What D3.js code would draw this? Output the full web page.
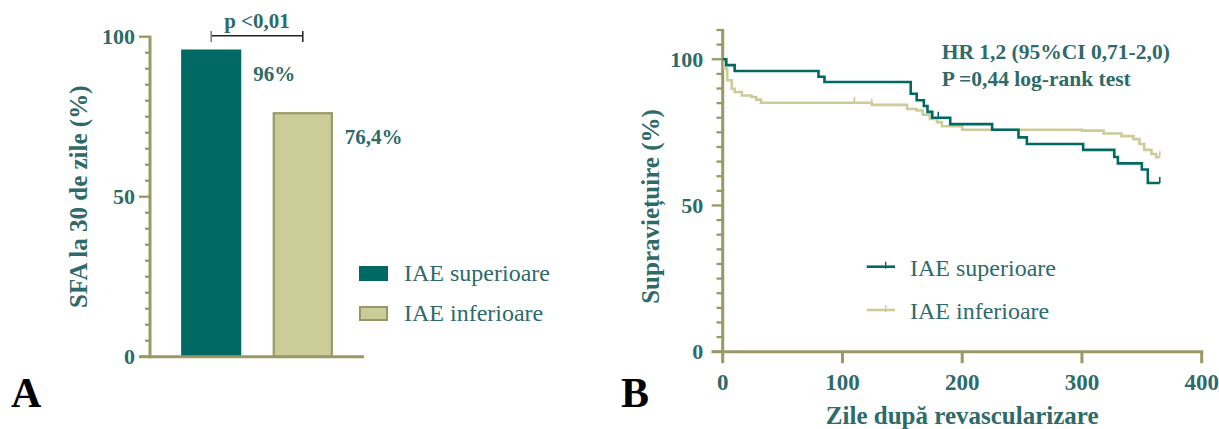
<!DOCTYPE html>
<html>
<head>
<meta charset="utf-8">
<script src="https://cdn.jsdelivr.net/npm/d3@7"></script>
<style>
  html, body { margin: 0; padding: 0; background: #ffffff; }
  svg { display: block; }
  text { font-family: "Liberation Serif", "Times New Roman", "DejaVu Serif", serif; }
</style>
</head>
<body>
<svg id="chart" width="1219" height="429"></svg>
<script>
// ---------------- DATA ----------------
const barCategories = ["IAE superioare", "IAE inferioare"];
const barValues = [96, 76.4];
const barLabels = ["96%", "76,4%"];
const barYTicks = [0, 50, 100];
const barYTitle = "SFA la 30 de zile (%)";
const pText = "p <0,01";

const kmXTicks = [0, 100, 200, 300, 400];
const kmYTicks = [0, 50, 100];
const kmXTitle = "Zile după revascularizare";
const kmYTitle = "Supraviețuire (%)";
const kmAnnot = ["HR 1,2 (95%CI 0,71-2,0)", "P =0,44 log-rank test"];
const kmSeries = ["IAE superioare", "IAE inferioare"];

const supDays = [0, 3, 10, 80, 85, 157, 162, 168, 171, 175, 190, 225, 247, 254, 301, 327, 330, 350, 355, 365];
const supSurv = [100, 98, 96, 94, 92.2, 88.2, 86, 84, 82, 80, 77.8, 75.9, 73.3, 71, 69, 66.6, 64.4, 62.3, 57.7, 57.7];
const supCensor = [180, 365];

const infDays = [0, 1.5, 3.8, 7.5, 10, 16, 24, 28, 32, 124.5, 154, 162, 167, 173, 179, 183, 200, 300, 318, 333, 343, 348, 352, 358, 362, 365];
const infSurv = [100, 96.8, 92.8, 89.9, 88.8, 87.6, 87.1, 86.2, 85.1, 84.4, 83, 82.5, 81, 79.6, 78.5, 77.1, 75.9, 75.6, 74.6, 73.7, 72.7, 71, 69, 67.6, 66.5, 66.5];
const infCensor = [110, 124.5, 365];

// ---------------- STYLE ----------------
const TEAL = "#006964";
const BEIGE = "#cccc99";
const OLIVE = "#9a9863";
const TXT = "#2e6a69";

const svg = d3.select("#chart");

// ---------------- PANEL A ----------------
const ay = d3.scaleLinear().domain([0, 100]).range([356.7, 36.7]);
const ax = d3.scaleBand().domain(barCategories).range([150, 364]).paddingInner(0.344).paddingOuter(0.34);

// bars
const barColors = [TEAL, BEIGE];
svg.append("g").selectAll("rect").data(barCategories).join("rect")
  .attr("x", (d, i) => ax(d) + (i === 1 ? 1 : 0))
  .attr("width", (d, i) => ax.bandwidth() - (i === 1 ? 2 : 0))
  .attr("y", (d, i) => ay(barValues[i]) + (i === 1 ? 1 : 0))
  .attr("height", (d, i) => ay(0) - ay(barValues[i]) - (i === 1 ? 1 : 0))
  .attr("fill", (d, i) => barColors[i])
  .attr("stroke", (d, i) => i === 1 ? "#999966" : "none")
  .attr("stroke-width", 2.2);

// bar value labels
svg.append("g").selectAll("text").data(barCategories).join("text")
  .attr("x", d => ax(d) + ax.bandwidth() + 12)
  .attr("y", (d, i) => ay(barValues[i]) + 31.5)
  .attr("fill", TXT).attr("font-weight", "bold").attr("font-size", 21)
  .text((d, i) => barLabels[i]);

// y axis A
const aMinor = d3.range(0, 101, 5);
const gA = svg.append("g");
gA.selectAll("line.tk").data(aMinor).join("line")
  .attr("x1", d => barYTicks.includes(d) ? 139 : 145).attr("x2", 150)
  .attr("y1", d => ay(d)).attr("y2", d => ay(d))
  .attr("stroke", OLIVE).attr("stroke-width", 2.3);
gA.append("line").attr("x1", 150).attr("x2", 150).attr("y1", ay(100) - 1).attr("y2", ay(0) + 1.5)
  .attr("stroke", OLIVE).attr("stroke-width", 3);
gA.append("line").attr("x1", 139).attr("x2", 364).attr("y1", ay(0)).attr("y2", ay(0))
  .attr("stroke", OLIVE).attr("stroke-width", 3);
gA.selectAll("text").data(barYTicks).join("text")
  .attr("x", 135).attr("y", d => ay(d)).attr("dy", "0.34em")
  .attr("text-anchor", "end").attr("fill", TXT).attr("font-weight", "bold").attr("font-size", 22)
  .text(d => d);

// y title A
svg.append("text").attr("transform", `translate(87,${(ay(0) + ay(100)) / 2}) rotate(-90)`)
  .attr("text-anchor", "middle").attr("fill", TXT).attr("font-weight", "bold").attr("font-size", 25)
  .text(barYTitle);

// significance bracket
const bx1 = ax(barCategories[0]) + ax.bandwidth() / 2;
const bx2 = ax(barCategories[1]) + ax.bandwidth() / 2;
const gP = svg.append("g").attr("stroke", "#222").attr("stroke-width", 1.5);
gP.append("line").attr("x1", bx1).attr("x2", bx2).attr("y1", 35.7).attr("y2", 35.7);
gP.append("line").attr("x1", bx1).attr("x2", bx1).attr("y1", 31).attr("y2", 42).attr("stroke", "#777");
gP.append("line").attr("x1", bx2).attr("x2", bx2).attr("y1", 31).attr("y2", 42);
svg.append("text").attr("x", (bx1 + bx2) / 2).attr("y", 28).attr("text-anchor", "middle")
  .attr("fill", TXT).attr("font-weight", "bold").attr("font-size", 21).text(pText);

// legend A
const legA = svg.append("g");
barCategories.forEach((c, i) => {
  legA.append("rect").attr("x", 359 + (i === 1 ? 1 : 0)).attr("y", 266 + i * 40 + (i === 1 ? 1 : 0))
    .attr("width", 29 - (i === 1 ? 2 : 0)).attr("height", 15 - (i === 1 ? 2 : 0))
    .attr("fill", barColors[i]).attr("stroke", i === 1 ? "#999966" : "none").attr("stroke-width", 2);
  legA.append("text").attr("x", 404).attr("y", 281 + i * 40)
    .attr("fill", TXT).attr("font-size", 24).text(c);
});

// panel letter A
svg.append("text").attr("x", 11).attr("y", 407).attr("font-weight", "bold").attr("font-size", 42)
  .attr("fill", "#000").text("A");

// ---------------- PANEL B ----------------
const kx = d3.scaleLinear().domain([0, 400]).range([722.7, 1201.7]);
const ky = d3.scaleLinear().domain([0, 110]).range([351.7, 30]);

const gB = svg.append("g");
const bMinor = d3.range(0, 111, 5);
gB.selectAll("line.ytk").data(bMinor).join("line")
  .attr("x1", d => kmYTicks.includes(d) ? 711.7 : 716.5).attr("x2", kx(0))
  .attr("y1", d => ky(d)).attr("y2", d => ky(d))
  .attr("stroke", OLIVE).attr("stroke-width", 2.3);
gB.append("line").attr("x1", kx(0)).attr("x2", kx(0)).attr("y1", ky(110) - 1).attr("y2", ky(0) + 1.5)
  .attr("stroke", OLIVE).attr("stroke-width", 3);
gB.append("line").attr("x1", 711.7).attr("x2", kx(400) + 1.5).attr("y1", ky(0)).attr("y2", ky(0))
  .attr("stroke", OLIVE).attr("stroke-width", 3);
gB.selectAll("line.xtk").data(kmXTicks).join("line")
  .attr("x1", d => kx(d)).attr("x2", d => kx(d)).attr("y1", ky(0)).attr("y2", ky(0) + 11.5)
  .attr("stroke", OLIVE).attr("stroke-width", 3);
gB.selectAll("text.yl").data(kmYTicks).join("text")
  .attr("x", 703.3).attr("y", d => ky(d)).attr("dy", "0.34em")
  .attr("text-anchor", "end").attr("fill", TXT).attr("font-weight", "bold").attr("font-size", 22)
  .text(d => d);
gB.selectAll("text.xl").data(kmXTicks).join("text")
  .attr("x", d => kx(d)).attr("y", 390)
  .attr("text-anchor", "middle").attr("fill", TXT).attr("font-weight", "bold").attr("font-size", 23)
  .text(d => d);

// titles B
svg.append("text").attr("transform", `translate(659,${ky(50) + 1}) rotate(-90)`)
  .attr("text-anchor", "middle").attr("fill", TXT).attr("font-weight", "bold").attr("font-size", 25)
  .text(kmYTitle);
svg.append("text").attr("x", kx(200)).attr("y", 424).attr("text-anchor", "middle")
  .attr("fill", TXT).attr("font-weight", "bold").attr("font-size", 25).text(kmXTitle);

// curves
const stepLine = d3.line().x(d => kx(d[0])).y(d => ky(d[1])).curve(d3.curveStepAfter);
const infPts = infDays.map((d, i) => [d, infSurv[i]]);
const supPts = supDays.map((d, i) => [d, supSurv[i]]);
function survAt(days, surv, t) {
  let v = surv[0];
  for (let i = 0; i < days.length; i++) { if (days[i] <= t) v = surv[i]; }
  return v;
}
svg.append("path").datum(infPts).attr("d", stepLine).attr("fill", "none")
  .attr("stroke", BEIGE).attr("stroke-width", 2.6);
svg.append("path").datum(supPts).attr("d", stepLine).attr("fill", "none")
  .attr("stroke", TEAL).attr("stroke-width", 2.6);
// censor marks
svg.append("g").selectAll("line").data(infCensor).join("line")
  .attr("x1", d => kx(d)).attr("x2", d => kx(d))
  .attr("y1", d => ky(survAt(infDays, infSurv, d))).attr("y2", d => ky(survAt(infDays, infSurv, d)) - 6)
  .attr("stroke", BEIGE).attr("stroke-width", 1.6);
svg.append("g").selectAll("line").data(supCensor).join("line")
  .attr("x1", d => kx(d)).attr("x2", d => kx(d))
  .attr("y1", d => ky(survAt(supDays, supSurv, d))).attr("y2", d => ky(survAt(supDays, supSurv, d)) - 6)
  .attr("stroke", TEAL).attr("stroke-width", 1.6);

// annotation
kmAnnot.forEach((t, i) => {
  svg.append("text").attr("x", 941.7).attr("y", 59.3 + i * 26.4)
    .attr("fill", TXT).attr("font-weight", "bold").attr("font-size", 21.5).text(t);
});

// legend B
const legColors = [TEAL, BEIGE];
kmSeries.forEach((s, i) => {
  const yy = 266.7 + i * 43.3;
  svg.append("line").attr("x1", 866.7).attr("x2", 895).attr("y1", yy).attr("y2", yy)
    .attr("stroke", legColors[i]).attr("stroke-width", 2.6);
  svg.append("line").attr("x1", 885.7).attr("x2", 885.7).attr("y1", yy - 5).attr("y2", yy + 2)
    .attr("stroke", legColors[i]).attr("stroke-width", 1.4);
  svg.append("text").attr("x", 910).attr("y", yy + 9.3)
    .attr("fill", TXT).attr("font-size", 24).text(s);
});

// panel letter B
svg.append("text").attr("x", 621).attr("y", 407).attr("font-weight", "bold").attr("font-size", 42)
  .attr("fill", "#000").text("B");
</script>
</body>
</html>
